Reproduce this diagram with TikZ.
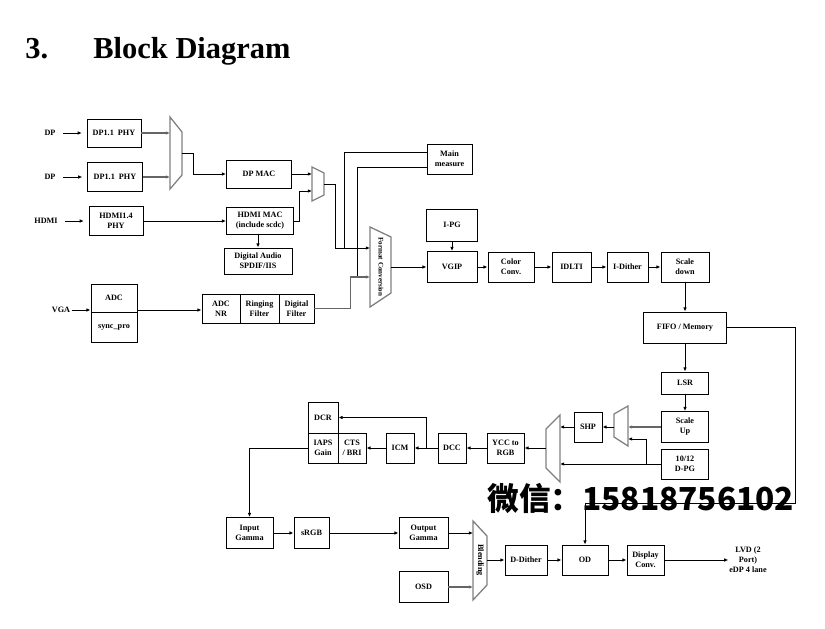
\documentclass[tikz,border=0pt]{standalone}
\usepackage{fontspec}
\setmainfont{Liberation Serif}
\newfontfamily\cjk{Noto Sans CJK SC}
\usetikzlibrary{arrows.meta}
\tikzset{
  blk/.style={draw, line width=0.8pt, align=center, inner sep=1pt, font=\bfseries\fontsize{7}{8.5}\selectfont},
  sz/.style 2 args={minimum width=#1*0.3mm, minimum height=#2*0.3mm},
  lbl/.style={align=center, inner sep=1pt, font=\bfseries\fontsize{7}{8.5}\selectfont},
  inarr/.style={->, shorten <=5pt, shorten >=4pt},
  mux/.style={draw=gray, line width=1.1pt},
  gline/.style={draw=gray!80!black, line width=1pt},
  >={Latex[length=3.5pt,width=3pt]}
}

\begin{document}
\begin{tikzpicture}[x=0.3mm, y=-0.3mm, line width=0.7pt]
    \useasboundingbox (0,0) rectangle (825,629);
    % 标题
    \node[anchor=base west, inner sep=0, font=\bfseries\fontsize{26}{30}\selectfont] (num) at (25,59) {3.};
    \node[anchor=base west, inner sep=0, font=\bfseries\fontsize{26}{30}\selectfont] (title) at (93,59) {Block Diagram};

    % 输入
    \node[lbl] (inDPa) at (50,133) {DP};
    \node[lbl] (inDPb) at (50,177) {DP};
    \node[lbl] (inHDMI) at (46,221) {HDMI};
    \node[lbl] (inVGA) at (61,310) {VGA};

    % 接收端
    \node[blk, sz={54}{28}] (dpphyA) at (114,133) {DP1.1\ \ PHY};
    \node[blk, sz={55}{29}] (dpphyB) at (115,177) {DP1.1\ \ PHY};
    \node[blk, sz={54}{29}] (hdmiphy) at (116,221) {HDMI1.4\\PHY};
    \node[blk, sz={46}{28}] (adc) at (114,298) {ADC};
    \node[blk, sz={46}{30}] (sync) at (114,327) {sync\_pro};
    \draw[line width=1.4pt] (adc.south west) -- (adc.south east);

    \node[blk, sz={65}{28}] (dpmac) at (259,174) {DP MAC};
    \node[blk, sz={67}{27}] (hdmimac) at (260,221) {HDMI MAC\\(include scdc)};
    \node[blk, sz={68}{26}] (audio) at (258,261) {Digital Audio\\SPDIF/IIS};
    \node[blk, sz={38}{29}] (adcnr) at (221,308.5) {ADC\\NR};
    \node[blk, sz={39}{29}] (ring) at (259.5,308.5) {Ringing\\Filter};
    \node[blk, sz={35}{29}] (dfilt) at (296.5,308.5) {Digital\\Filter};

    % 选择器
    \draw[mux] (170,117) -- (182,132) -- (182,175) -- (170,189) -- cycle;
    \coordinate (m1a) at (170,133);
    \coordinate (m1b) at (170,177);
    \coordinate (m1o) at (182,153);
    \draw[mux] (312,167) -- (324,173) -- (324,195) -- (312,201) -- cycle;
    \coordinate (m2a) at (312,174);
    \coordinate (m2b) at (312,191);
    \coordinate (m2o) at (324,184);
    \draw[mux] (370,227) -- (391,237) -- (391,293) -- (370,307) -- cycle;
    \node[rotate=-90, inner sep=0, font=\bfseries\fontsize{6}{7}\selectfont] (fmtlbl) at (381,267) {Format Conversion};
    \coordinate (fa) at (370,248);
    \coordinate (fb) at (370,277);
    \coordinate (fo) at (391,267);

    % 主通道
    \node[blk, sz={45}{30}] (mainm) at (449.5,159) {Main\\measure};
    \node[blk, sz={51}{32}] (ipg) at (452,225) {I-PG};
    \node[blk, sz={50}{31}] (vgip) at (452,267) {VGIP};
    \node[blk, sz={46}{30}] (colorconv) at (511,267) {Color\\Conv.};
    \node[blk, sz={39}{30}] (idlti) at (571.5,267) {IDLTI};
    \node[blk, sz={41}{30}] (idither) at (627.5,267) {I-Dither};
    \node[blk, sz={48}{30}] (scaledown) at (685,267) {Scale\\down};
    \node[blk, sz={83}{31}] (fifo) at (685,327.5) {FIFO / Memory};
    \node[blk, sz={47}{22}] (lsr) at (685,383) {LSR};
    \node[blk, sz={47}{31}] (scaleup) at (685,427) {Scale\\Up};
    \node[blk, sz={47}{30}] (dpg) at (685,464) {10/12\\D-PG};

    % 后处理
    \draw[mux] (614,414) -- (628,406) -- (628,446) -- (614,437) -- cycle;
    \coordinate (m3a) at (628,427);
    \coordinate (m3b) at (628,439);
    \coordinate (m3o) at (614,427);
    \node[blk, sz={28}{30}] (shp) at (588,427) {SHP};
    \draw[mux] (560,415) -- (560,482) -- (546,468) -- (546,429) -- cycle;
    \coordinate (m4a) at (560,427);
    \coordinate (m4b) at (560,464);
    \coordinate (m4o) at (546,448);
    \node[blk, sz={37}{30}] (ycc) at (505.5,448) {YCC to\\RGB};
    \node[blk, sz={28}{30}] (dcc) at (452,448) {DCC};
    \node[blk, sz={28}{30}] (icm) at (400,448) {ICM};
    \node[blk, sz={28}{30}] (cts) at (352,448) {CTS\\/ BRI};
    \node[blk, sz={30}{30}] (iaps) at (323,448) {IAPS\\Gain};
    \node[blk, sz={30}{31}] (dcr) at (323,417.5) {DCR};

    % 输出
    \node[blk, sz={47}{31}] (ingamma) at (249.5,533) {Input\\Gamma};
    \node[blk, sz={35}{31}] (srgb) at (311.5,533) {sRGB};
    \node[blk, sz={49}{31}] (outgamma) at (423.5,533) {Output\\Gamma};
    \node[blk, sz={49}{31}] (osd) at (423.5,587) {OSD};
    \draw[mux] (473,521) -- (487,536) -- (487,585) -- (473,600) -- cycle;
    \node[rotate=-90, inner sep=0, font=\bfseries\fontsize{7}{8}\selectfont] (blendlbl) at (480,560) {Blending};
    \coordinate (ba) at (473,533);
    \coordinate (bb) at (473,587);
    \coordinate (bo) at (487,560);
    \node[blk, sz={42}{30}] (ddither) at (526,560) {D-Dither};
    \node[blk, sz={46}{30}] (od) at (585,560) {OD};
    \node[blk, sz={37}{30}] (dispconv) at (645.5,560) {Display\\Conv.};
    \node[lbl, inner sep=0.5pt] (lvd) at (748,560) {LVD (2\\Port)\\eDP 4 lane};

    % 水印
    \node[anchor=west, inner sep=0, font=\cjk\bfseries\fontsize{27}{27}\selectfont] (wm) at (487,498) {微信：15818756102};

    % 连线
    \draw[inarr] (inDPa) -- (dpphyA);
    \draw[inarr] (inDPb) -- (dpphyB);
    \draw[inarr] (inHDMI) -- (hdmiphy);
    \draw[->] (inVGA) -- (inVGA -| adc.west);
    \draw[gline,->] (dpphyA) -- (m1a);
    \draw[gline,->] (dpphyB) -- (m1b);
    \draw[->] (m1o) -- ++(11,0) |- (dpmac);
    \draw[->] (hdmiphy) -- (hdmimac);
    \draw[->] (audio.north |- hdmimac.south) -- (audio.north);
    \draw[->] (adc.east |- inVGA) -- (adcnr.west |- inVGA);
    \draw[->] (dpmac) -- (m2a);
    \draw[->] (hdmimac.east) -- ++(5,0) |- (m2b);
    \draw[->] (m2o) -- ++(11,0) |- (fa);
    \coordinate (j1) at (344,248);
    \coordinate (j2) at (357,277);
    \draw ([yshift=2.1mm]mainm.west) -| (j1);
    \draw ([yshift=-2.4mm]mainm.west) -| (j2);
    \draw[gline,->] (dfilt.east) -- ++(36,0) |- (fb);
    \draw[->] (fo) -- (vgip);
    \draw[->] (ipg) -- (vgip);
    \draw[->] (vgip) -- (colorconv);
    \draw[->] (colorconv) -- (idlti);
    \draw[->] (idlti) -- (idither);
    \draw[->] (idither) -- (scaledown);
    \draw[->] (scaledown) -- (fifo);
    \draw[->] (fifo) -- (lsr);
    \draw[->] (lsr) -- (scaleup);
    \draw[->] (fifo.east) -| (795,503) -| (od);
    \draw[gline,->] (scaleup) -- (m3a);
    \coordinate (j3) at (646,464);
    \draw[->] (dpg) -- (m4b);
    \draw[->] (j3) |- (m3b);
    \draw[->] (m3o) -- (shp);
    \draw[->] (shp) -- (m4a);
    \draw[->] (m4o) -- (ycc);
    \draw[->] (ycc) -- (dcc);
    \draw[->] (dcc) -- (icm);
    \draw[->] (icm) -- (cts);
    \coordinate (j4) at (426,448);
    \draw[->] (j4) |- (dcr);
    \draw[->] (iaps) -| (ingamma);
    \draw[->] (ingamma) -- (srgb);
    \draw[->] (srgb) -- (outgamma);
    \draw[->] (outgamma) -- (ba);
    \draw[gline,->] (osd) -- (bb);
    \draw[->] (bo) -- (ddither);
    \draw[->] (ddither) -- (od);
    \draw[->] (od) -- (dispconv);
    \draw[->] (dispconv) -- (lvd);
\end{tikzpicture}
\end{document}
